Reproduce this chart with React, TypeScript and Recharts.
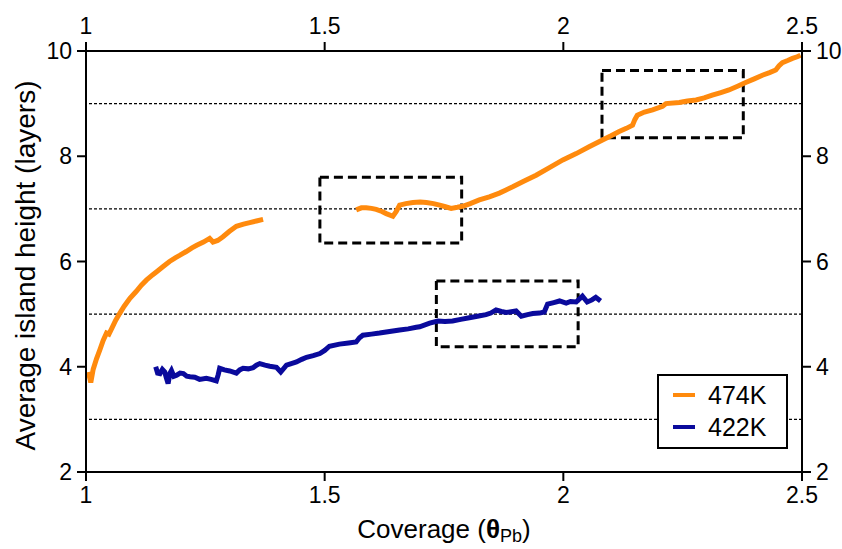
import { LineChart, Line, XAxis, YAxis, ReferenceLine, ReferenceArea } from "recharts";

// 474K, low-coverage branch
const orangeLowX = [1.005, 1.01, 1.015, 1.022, 1.029, 1.036, 1.043, 1.048, 1.054, 1.062, 1.071, 1.08, 1.092, 1.105, 1.116, 1.127, 1.14, 1.15, 1.161, 1.175, 1.187, 1.197, 1.21, 1.222, 1.232, 1.246, 1.259, 1.266, 1.276, 1.287, 1.3, 1.315, 1.33, 1.343, 1.357, 1.371];
const orangeLowY = [3.9, 3.7, 3.95, 4.15, 4.32, 4.5, 4.64, 4.62, 4.73, 4.88, 5.02, 5.15, 5.3, 5.43, 5.55, 5.65, 5.75, 5.82, 5.9, 6.0, 6.07, 6.12, 6.19, 6.26, 6.31, 6.37, 6.44, 6.37, 6.4, 6.47, 6.57, 6.67, 6.71, 6.74, 6.77, 6.8];

// 474K, high-coverage branch
const orangeHighX = [1.566, 1.577, 1.587, 1.598, 1.608, 1.62, 1.629, 1.643, 1.65, 1.657, 1.67, 1.685, 1.7, 1.713, 1.728, 1.741, 1.753, 1.765, 1.778, 1.789, 1.805, 1.824, 1.845, 1.866, 1.88, 1.894, 1.918, 1.943, 1.97, 1.999, 2.027, 2.054, 2.082, 2.1, 2.117, 2.132, 2.145, 2.15, 2.155, 2.17, 2.187, 2.208, 2.215, 2.243, 2.26, 2.278, 2.295, 2.312, 2.33, 2.347, 2.365, 2.382, 2.4, 2.417, 2.432, 2.445, 2.452, 2.459, 2.47, 2.48, 2.49, 2.497];
const orangeHighY = [6.98, 7.02, 7.02, 7.01, 6.99, 6.95, 6.91, 6.86, 6.95, 7.07, 7.1, 7.12, 7.13, 7.12, 7.1, 7.07, 7.04, 7.01, 7.03, 7.05, 7.1, 7.17, 7.23, 7.3, 7.36, 7.42, 7.53, 7.64, 7.78, 7.93, 8.05, 8.18, 8.31, 8.39, 8.47, 8.53, 8.59, 8.7, 8.78, 8.84, 8.88, 8.95, 9.0, 9.02, 9.05, 9.07, 9.11, 9.16, 9.21, 9.26, 9.33, 9.4, 9.47, 9.54, 9.59, 9.64, 9.72, 9.78, 9.82, 9.86, 9.89, 9.92];

// 422K
const blueX = [1.146, 1.15, 1.155, 1.16, 1.165, 1.168, 1.172, 1.176, 1.179, 1.184, 1.19, 1.197, 1.204, 1.211, 1.218, 1.228, 1.238, 1.252, 1.262, 1.273, 1.277, 1.28, 1.29, 1.301, 1.315, 1.322, 1.329, 1.34, 1.35, 1.357, 1.364, 1.375, 1.385, 1.399, 1.408, 1.42, 1.43, 1.441, 1.452, 1.462, 1.476, 1.49, 1.5, 1.51, 1.531, 1.55, 1.566, 1.573, 1.58, 1.598, 1.615, 1.636, 1.657, 1.675, 1.692, 1.699, 1.72, 1.737, 1.752, 1.768, 1.785, 1.803, 1.82, 1.838, 1.848, 1.859, 1.87, 1.88, 1.901, 1.912, 1.925, 1.936, 1.95, 1.96, 1.967, 1.98, 1.992, 2.006, 2.015, 2.027, 2.04, 2.05, 2.06, 2.068, 2.078];
const blueY = [4.0, 3.88, 3.87, 3.95, 3.9, 3.8, 3.68, 3.88, 3.93, 3.82, 3.84, 3.88, 3.87, 3.82, 3.81, 3.8, 3.76, 3.78, 3.76, 3.73, 3.85, 3.97, 3.94, 3.92, 3.88, 3.94, 3.97, 3.96, 3.98, 4.03, 4.06, 4.03, 4.01, 3.99, 3.9, 4.03, 4.06, 4.09, 4.14, 4.18, 4.21, 4.25, 4.31, 4.39, 4.43, 4.45, 4.47, 4.55, 4.6, 4.62, 4.64, 4.67, 4.7, 4.72, 4.75, 4.76, 4.83, 4.87, 4.86, 4.87, 4.9, 4.93, 4.96, 4.99, 5.02, 5.08, 5.05, 5.03, 5.06, 4.96, 4.99, 5.01, 5.02, 5.04, 5.19, 5.22, 5.25, 5.21, 5.24, 5.23, 5.34, 5.23, 5.27, 5.32, 5.25];

const xTicks = [1, 1.5, 2, 2.5];
const yTicks = [2, 4, 6, 8, 10];
const guideLevels = [3, 5, 7, 9];

// dashed highlight boxes: [x1, x2, y1, y2]
const boxes = [
  [1.49, 1.787, 6.35, 7.6],
  [1.734, 2.031, 4.38, 5.63],
  [2.081, 2.377, 8.35, 9.63],
];

const legendItems = [
  { name: "474K", color: "#ff8a0d" },
  { name: "422K", color: "#0a0a9c" },
];

const zip = (xs: number[], ys: number[]) => xs.map((x, i) => ({ x, y: ys[i] }));

const FONT = "'Liberation Sans', Arial, sans-serif";
const tickStyle = { fill: "#000", fontSize: 23, fontFamily: FONT };
const axisLine = { stroke: "#000", strokeWidth: 2 };

function XTitle(props: any) {
  const vb = props.viewBox;
  return (
    <text x={vb.x + vb.width / 2} y={vb.y + 66} textAnchor="middle" fontFamily={FONT} fontSize={26} fill="#000">
      Coverage (<tspan fontWeight="bold">θ</tspan>
      <tspan fontSize={18} dy={4}>Pb</tspan>
      <tspan dy={-4}>)</tspan>
    </text>
  );
}

function YTitle(props: any) {
  const vb = props.viewBox;
  const cx = vb.x + 25;
  const cy = vb.y + vb.height / 2 + 4;
  return (
    <text x={cx} y={cy} transform={`rotate(-90 ${cx} ${cy})`} textAnchor="middle" dominantBaseline="central" fontFamily={FONT} fontSize={28} fill="#000">
      Average island height (layers)
    </text>
  );
}

export default function App() {
  return (
    <div style={{ position: "absolute", left: 0, top: 0, width: 842, height: 549, background: "#fff" }}>
      <LineChart width={842} height={549} margin={{ top: 0, right: 0, bottom: 0, left: 0 }}>
        <XAxis xAxisId="bottom" type="number" dataKey="x" orientation="bottom" domain={[1, 2.5]} ticks={xTicks}
          height={77} tick={tickStyle} tickSize={9} tickMargin={6} axisLine={axisLine} tickLine={axisLine}
          allowDataOverflow label={<XTitle />} />
        <XAxis xAxisId="top" type="number" dataKey="x" orientation="top" domain={[1, 2.5]} ticks={xTicks}
          height={51} tick={tickStyle} tickSize={9} tickMargin={8} axisLine={axisLine} tickLine={axisLine}
          allowDataOverflow />
        <YAxis yAxisId="left" type="number" domain={[2, 10]} ticks={yTicks} width={86}
          tick={tickStyle} tickSize={9} tickMargin={5} axisLine={axisLine} tickLine={axisLine}
          allowDataOverflow label={<YTitle />} />
        <YAxis yAxisId="right" orientation="right" type="number" domain={[2, 10]} ticks={yTicks} width={40}
          tick={{ ...tickStyle, textAnchor: "start" }} tickSize={9} tickMargin={5} axisLine={axisLine} tickLine={axisLine}
          allowDataOverflow />

        {guideLevels.map((v) => (
          <ReferenceLine key={v} y={v} xAxisId="top" yAxisId="right" stroke="#000" strokeWidth={1.3} strokeDasharray="3 2" />
        ))}

        {boxes.map((b, i) => (
          <ReferenceArea key={i} xAxisId="bottom" yAxisId="left" x1={b[0]} x2={b[1]} y1={b[2]} y2={b[3]}
            fill="none" fillOpacity={0} stroke="#000" strokeWidth={3} strokeDasharray="9 5" />
        ))}

        <Line xAxisId="bottom" yAxisId="left" data={zip(orangeLowX, orangeLowY)} dataKey="y" type="linear"
          stroke={legendItems[0].color} strokeWidth={5} dot={false} isAnimationActive={false} />
        <Line xAxisId="bottom" yAxisId="left" data={zip(orangeHighX, orangeHighY)} dataKey="y" type="linear"
          stroke={legendItems[0].color} strokeWidth={5} dot={false} isAnimationActive={false} />
        <Line xAxisId="bottom" yAxisId="left" data={zip(blueX, blueY)} dataKey="y" type="linear"
          stroke={legendItems[1].color} strokeWidth={5} dot={false} isAnimationActive={false} />
      </LineChart>

      <div style={{
        position: "absolute", left: 657, top: 374, width: 127, height: 71,
        border: "2px solid #000", background: "#fff", fontFamily: FONT, fontSize: 25,
        boxSizing: "content-box",
      }}>
        {legendItems.map((it, i) => (
          <div key={it.name} style={{ position: "absolute", left: 14, top: 4 + i * 32, height: 30, display: "flex", alignItems: "center" }}>
            <span style={{ display: "inline-block", width: 22, height: 4, background: it.color, marginRight: 13 }} />
            <span>{it.name}</span>
          </div>
        ))}
      </div>
    </div>
  );
}
